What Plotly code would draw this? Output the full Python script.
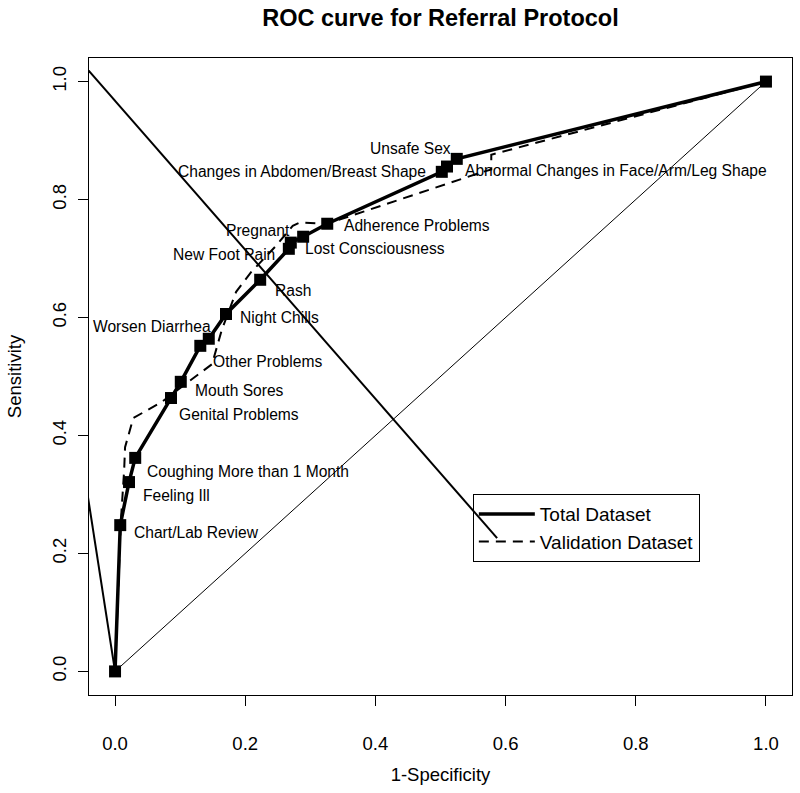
import plotly.graph_objects as go

# ROC points for the total dataset (1-specificity, sensitivity)
point_names = ["", "Chart/Lab Review", "Feeling Ill", "Coughing More than 1 Month",
               "Genital Problems", "Mouth Sores", "Worsen Diarrhea", "Other Problems",
               "Night Chills", "Rash", "New Foot Pain", "Pregnant", "Lost Consciousness",
               "Adherence Problems", "Changes in Abdomen/Breast Shape", "Unsafe Sex",
               "Abnormal Changes in Face/Arm/Leg Shape", ""]
total_fpr = [0.0, 0.008, 0.0215, 0.031, 0.086, 0.101, 0.131, 0.144, 0.1705, 0.223,
             0.267, 0.270, 0.289, 0.326, 0.502, 0.510, 0.525, 1.0]
total_tpr = [0.0, 0.248, 0.321, 0.362, 0.4635, 0.491, 0.552, 0.564, 0.606, 0.664,
             0.7165, 0.727, 0.737, 0.759, 0.847, 0.856, 0.869, 1.0]

# validation dataset curve
valid_fpr = [0.0, 0.009, 0.014, 0.0154, 0.028, 0.072, 0.149, 0.164, 0.186, 0.209,
             0.246, 0.273, 0.284, 0.326, 0.561, 0.578, 0.578, 1.0]
valid_tpr = [0.0, 0.256, 0.341, 0.380, 0.4295, 0.457, 0.521, 0.579, 0.6435, 0.677,
             0.720, 0.7555, 0.761, 0.759, 0.8455, 0.851, 0.876, 1.0]

# reference diagonal and the two stray segments in the original
chance_x = [0, 1]
chance_y = [0, 1]
seg_a_x = [-0.0415, 0.587]
seg_a_y = [1.02, 0.226]
seg_b_x = [-0.0415, 0.0]
seg_b_y = [0.295, 0.0]

ticks = [0, 0.2, 0.4, 0.6, 0.8, 1.0]

# label placement next to each point: xanchor, x shift, y shift (px)
label_place = [None, ("left", 12, -7), ("left", 12, -13), ("left", 10, -14),
               ("left", 6, -16), ("left", 12, -9), ("right", 13, 19), ("left", 2, -23),
               ("left", 12, -4), ("left", 13, -11), ("right", -12, -6), ("right", 1, 12),
               ("left", 0, -12), ("left", 15, -2), ("right", -14, 0), ("right", 6, 18),
               ("left", 6, -12), None]

font = "Liberation Sans, Arial, sans-serif"

fig = go.Figure()
fig.add_trace(go.Scatter(x=chance_x, y=chance_y, mode="lines",
                         line=dict(color="black", width=1), showlegend=False))
fig.add_trace(go.Scatter(x=seg_b_x, y=seg_b_y, mode="lines",
                         line=dict(color="black", width=2), showlegend=False))
fig.add_trace(go.Scatter(x=valid_fpr, y=valid_tpr, mode="lines", name="Validation Dataset",
                         line=dict(color="black", width=2, dash="10px,7px"), legendrank=2))
fig.add_trace(go.Scatter(x=total_fpr, y=total_tpr, mode="lines", name="Total Dataset",
                         line=dict(color="black", width=3.5), legendrank=1))
fig.add_trace(go.Scatter(x=total_fpr, y=total_tpr, mode="markers",
                         marker=dict(symbol="square", size=12, color="black"),
                         showlegend=False))
fig.add_trace(go.Scatter(x=seg_a_x, y=seg_a_y, mode="lines",
                         line=dict(color="black", width=2), showlegend=False))

for name, fx, ty, place in zip(point_names, total_fpr, total_tpr, label_place):
    if not name:
        continue
    anchor, dx, dy = place
    fig.add_annotation(x=fx, y=ty, text=name, showarrow=False, xanchor=anchor,
                       yanchor="middle", xshift=dx, yshift=dy,
                       font=dict(family=font, size=15.6, color="black"))

axis_style = dict(range=[-0.04, 1.04], tickvals=ticks, tickformat=".1f",
                  showgrid=False, zeroline=False, showline=True, mirror=True,
                  linecolor="black", linewidth=1, ticks="outside", ticklen=10,
                  tickcolor="black", automargin=False,
                  tickfont=dict(family=font, size=18.5, color="black"))

fig.update_xaxes(**axis_style, ticklabelstandoff=22,
                 title=dict(text="1-Specificity", standoff=14,
                            font=dict(family=font, size=18.5, color="black")))
fig.update_yaxes(**axis_style, tickangle=-90, ticklabelstandoff=5,
                 title=dict(text="Sensitivity", standoff=22,
                            font=dict(family=font, size=18.5, color="black")))

fig.update_layout(
    width=800, height=793, autosize=False,
    margin=dict(l=89, r=8, t=58, b=98),
    paper_bgcolor="white", plot_bgcolor="white",
    title=dict(text="<b>ROC curve for Referral Protocol</b>", x=0.5, xref="paper",
               xanchor="center", y=1 - 18 / 793, yanchor="middle", pad=dict(t=0, b=0),
               font=dict(family=font, size=23.5, color="black")),
    legend=dict(x=0.546, y=0.3155, xanchor="left", yanchor="top", itemwidth=56,
                bgcolor="rgba(0,0,0,0)", bordercolor="black", borderwidth=1,
                font=dict(family=font, size=19, color="black")),
)

# drop the page's default body margin so the figure sits at the window corner
fig.write_html("out.html", config={"displayModeBar": False},
               post_script="document.body.style.margin='0';")
